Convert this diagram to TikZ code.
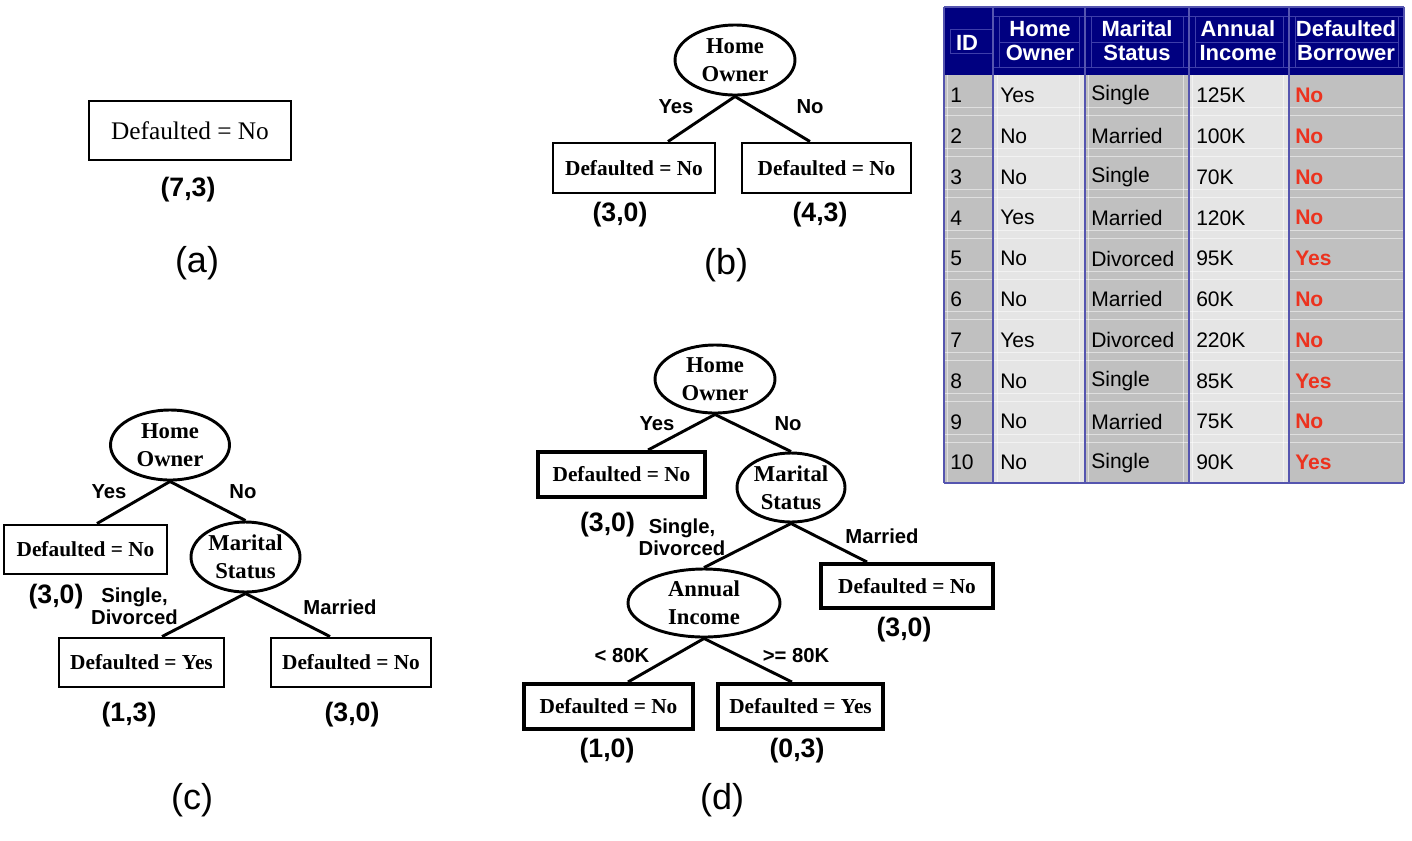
\documentclass[tikz,border=0pt]{standalone}
\usepackage{fontspec}
\setmainfont{Liberation Serif}
\newfontfamily\arial{Liberation Sans}
\usetikzlibrary{shapes.geometric}
\definecolor{hdrblue}{RGB}{0,0,128}
\definecolor{hdrline}{RGB}{62,62,170}
\definecolor{gridblue}{RGB}{85,85,175}
\definecolor{cellgray}{RGB}{192,192,192}
\definecolor{celllight}{RGB}{229,229,229}
\definecolor{redtxt}{RGB}{236,50,30}
\begin{document}
\begin{tikzpicture}[x=0.75pt,y=-0.75pt,
  leafbox/.style={draw, line width=2.2pt, inner sep=0pt, font={\bfseries\fontsize{16}{19}\selectfont}},
  thickbox/.style={leafbox, line width=3pt},
  rootbox/.style={draw, line width=2.2pt, inner sep=0pt, font={\fontsize{19}{22}\selectfont}},
  testnode/.style={draw, ellipse, line width=2.2pt, inner sep=0pt, align=center, font={\bfseries\fontsize{17}{21}\selectfont}},
  edge/.style={line width=2.2pt},
  blabel/.style={inner sep=0pt, align=center, font={\arial\bfseries\fontsize{15.2}{16.5}\selectfont}},
  count/.style={inner sep=0pt, font={\arial\bfseries\fontsize{20}{24}\selectfont}},
  caption/.style={inner sep=0pt, font={\arial\fontsize{27}{32}\selectfont}},
  hdr/.style={inner sep=0pt, align=center, text=white, font={\arial\bfseries\fontsize{16.5}{18}\selectfont}},
  cell/.style={inner sep=0pt, anchor=west, font={\arial\fontsize{15.8}{18}\selectfont}},
  redcell/.style={cell, text=redtxt, font={\arial\bfseries\fontsize{15.8}{18}\selectfont}},
  faint/.style={white, opacity=0.5, line width=0.5pt},
  hline/.style={hdrline, line width=0.6pt},
  grid/.style={gridblue, line width=1pt}
]
\useasboundingbox (0,0) rectangle (1412,840);
\fill[white] (0,0) rectangle (1412,840);

% ---------------- (a)
\node[rootbox, minimum width=151.5pt, minimum height=44.25pt] (aroot) at (190,130.5) {Defaulted = No};
\node[count] (acnt) at (188,190) {(7,3)};
\node[caption] (acap) at (197,263) {(a)};

% ---------------- (b)
\node[testnode, minimum width=90pt, minimum height=52.5pt] (bho) at (735,60) {Home\\Owner};
\node[leafbox, minimum width=121.5pt, minimum height=37.5pt] (bL) at (634,168) {Defaulted = No};
\node[leafbox, minimum width=126.75pt, minimum height=37.5pt] (bR) at (826.5,168) {Defaulted = No};
\draw[edge] (bho.south) -- ([xshift=25.5pt]bL.north);
\draw[edge] (bho.south) -- ([xshift=-12.4pt]bR.north);
\node[blabel] (byes) at (676,107) {Yes};
\node[blabel] (bno) at (810,107) {No};
\node[count] (bc1) at (620,215) {(3,0)};
\node[count] (bc2) at (820,215) {(4,3)};
\node[caption] (bcap) at (726,265) {(b)};

% ---------------- (c)
\node[testnode, minimum width=89.25pt, minimum height=52.5pt] (cho) at (170,445) {Home\\Owner};
\node[leafbox, minimum width=122.25pt, minimum height=36.75pt] (cL) at (85.5,549.5) {Defaulted = No};
\node[testnode, minimum width=81.75pt, minimum height=52.5pt] (cms) at (245.5,557) {Marital\\Status};
\node[leafbox, minimum width=123.75pt, minimum height=36.75pt] (cLL) at (141.5,662.5) {Defaulted = Yes};
\node[leafbox, minimum width=120pt, minimum height=36.75pt] (cLR) at (351,662.5) {Defaulted = No};
\draw[edge] (cho.south) -- ([xshift=8.6pt]cL.north);
\draw[edge] (cho.south) -- (cms.north);
\draw[edge] (cms.south) -- ([xshift=15.4pt]cLL.north);
\draw[edge] (cms.south) -- ([xshift=-15.75pt]cLR.north);
\node[blabel] (cyes) at (109,492) {Yes};
\node[blabel] (cno) at (243,492) {No};
\node[count] (cc1) at (56,597) {(3,0)};
\node[blabel] (csd) at (134.5,606.5) {Single,\\Divorced};
\node[blabel] (cmar) at (340,607) {Married};
\node[count] (cc2) at (129,715) {(1,3)};
\node[count] (cc3) at (352,715) {(3,0)};
\node[caption] (ccap) at (192,800) {(c)};

% ---------------- (d)
\node[testnode, minimum width=90pt, minimum height=51pt] (dho) at (715,379) {Home\\Owner};
\node[thickbox, minimum width=125.25pt, minimum height=33.75pt] (dL) at (621.5,474.5) {Defaulted = No};
\node[testnode, minimum width=81pt, minimum height=51.75pt] (dms) at (791,487.5) {Marital\\Status};
\node[testnode, minimum width=114pt, minimum height=51pt] (dai) at (704,603) {Annual\\Income};
\node[thickbox, minimum width=129pt, minimum height=33pt] (dR) at (907,586) {Defaulted = No};
\node[thickbox, minimum width=126.75pt, minimum height=33.75pt] (dLL) at (608.5,706.5) {Defaulted = No};
\node[thickbox, minimum width=123.75pt, minimum height=33.75pt] (dLR) at (800.5,706.5) {Defaulted = Yes};
\draw[edge] (dho.south) -- ([xshift=19.9pt]dL.north);
\draw[edge] (dho.south) -- (dms.north);
\draw[edge] (dms.south) -- (dai.north);
\draw[edge] (dms.south) -- ([xshift=-30pt]dR.north);
\draw[edge] (dai.south) -- ([xshift=14.6pt]dLL.north);
\draw[edge] (dai.south) -- ([xshift=-6.4pt]dLR.north);
\node[blabel] (dyes) at (657,424) {Yes};
\node[blabel] (dno) at (788,424) {No};
\node[count] (dc1) at (607.5,525) {(3,0)};
\node[blabel] (dsd) at (682,537) {Single,\\Divorced};
\node[blabel] (dmar) at (882,536) {Married};
\node[count] (dc2) at (904,630) {(3,0)};
\node[blabel] (dlt) at (622,656) {< 80K};
\node[blabel] (dge) at (796,656) {>= 80K};
\node[count] (dc3) at (607,751) {(1,0)};
\node[count] (dc4) at (797,751) {(0,3)};
\node[caption] (dcap) at (722,800) {(d)};

% ---------------- table
\fill[hdrblue] (944,7) rectangle (1404,75);
\fill[cellgray] (944,75) rectangle (993,483);
\fill[celllight] (993,75) rectangle (1085,483);
\fill[cellgray] (1085,75) rectangle (1189,483);
\fill[celllight] (1189,75) rectangle (1289,483);
\fill[cellgray] (1289,75) rectangle (1404,483);
% faint spreadsheet lines in body
\foreach \k in {1,...,9} {
  \pgfmathsetmacro\yb{75+40.8*\k}
  \pgfmathsetmacro\ya{75+40.8*\k-8}
  \draw[faint] (944,\yb) -- (1404,\yb);
  \draw[faint] (944,\ya) -- (1404,\ya);
}
\foreach \xx in {947,997,1079,1088,1183,1192,1283} {
  \draw[faint] (\xx,75) -- (\xx,483);
}
% header cell lines
\draw[hline] (950,29) -- (993,29);
\draw[hline] (950,53) -- (993,53);
\draw[hline] (950,29) -- (950,53);
\foreach \xa/\xb in {993/1085,1085/1189,1189/1289,1289/1404} {
  \draw[hline] (\xa,16) -- (\xb,16);
  \draw[hline] (\xa,67) -- (\xb,67);
  \draw[hline] ({\xa+6},16) -- ({\xa+6},67);
  \draw[hline] ({\xb-6},16) -- ({\xb-6},67);
  \draw[hline] ({\xa+6},42) -- ({\xb-6},42);
}
% blue grid
\foreach \xx in {944,993,1085,1189,1289,1404} {
  \draw[grid] (\xx,7) -- (\xx,483);
}
\draw[grid] (944,7) -- (1404,7);
\draw[grid] (944,483) -- (1404,483);
% header text
\node[hdr] (hid) at (967,43) {ID};
\node[hdr] (hho) at (1040,41) {Home\\Owner};
\node[hdr] (hms) at (1137,41) {Marital\\Status};
\node[hdr] (hai) at (1238,41) {Annual\\Income};
\node[hdr] (hdb) at (1346,41) {Defaulted\\Borrower};
% body text
\foreach \i/\ho/\ms/\ai/\df in {1/Yes/Single/125K/No, 2/No/Married/100K/No, 3/No/Single/70K/No, 4/Yes/Married/120K/No, 5/No/Divorced/95K/Yes, 6/No/Married/60K/No, 7/Yes/Divorced/220K/No, 8/No/Single/85K/Yes, 9/No/Married/75K/No, 10/No/Single/90K/Yes} {
  \pgfmathsetmacro\yc{75+40.8*(\i-0.5)}
  \node[cell] (id\i) at (950,\yc) {\i};
  \node[cell] (ho\i) at (1000,\yc) {\ho};
  \node[cell] (ms\i) at (1091,\yc) {\ms};
  \node[cell] (ai\i) at (1196,\yc) {\ai};
  \node[redcell] (df\i) at (1295,\yc) {\df};
}
\end{tikzpicture}
\end{document}
